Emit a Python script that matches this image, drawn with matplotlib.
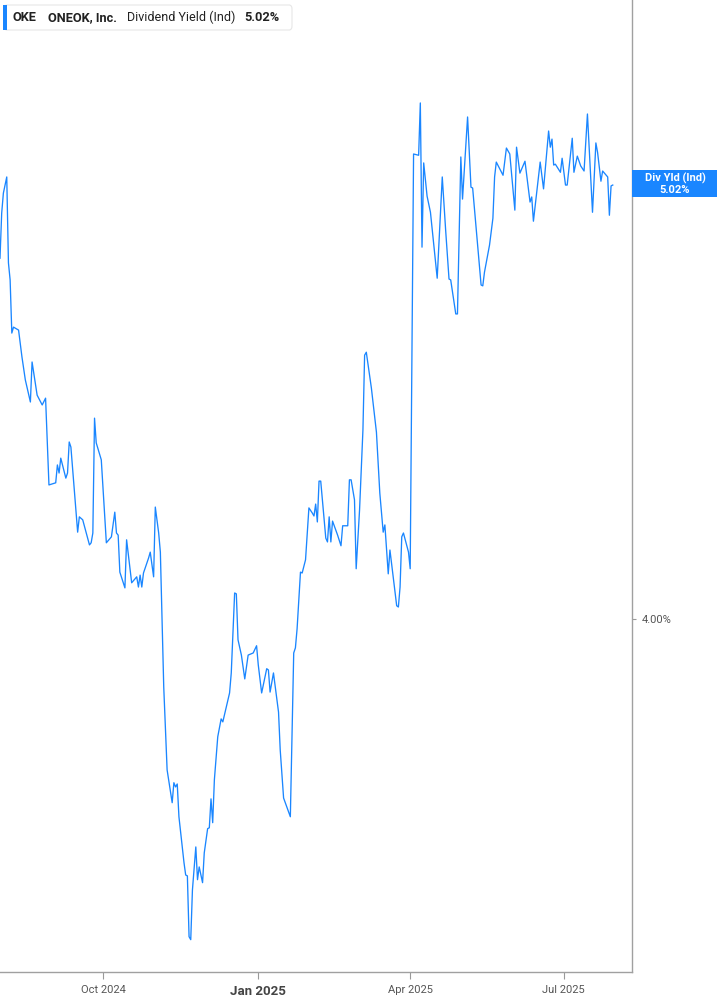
import matplotlib
matplotlib.use("Agg")
import matplotlib.pyplot as plt
import matplotlib.dates as mdates
from matplotlib.patches import FancyBboxPatch, Rectangle
import pandas as pd
import numpy as np

plt.rcParams['font.family'] = ['Roboto', 'DejaVu Sans']

start_date = "2024-08-01"
# days since start_date
day_offset = [0, 1, 2, 4, 5, 6, 7, 8, 11, 13, 15, 18, 19, 22, 25, 27, 29, 33, 34, 35,
              36, 39, 40, 41, 42, 46, 47, 49, 53, 54, 55, 56, 57, 60, 63, 66, 68, 69, 70, 71,
              74, 75, 78, 81, 82, 83, 84, 85, 88, 89, 91, 92, 94, 95, 97, 99, 102, 103, 104, 105,
              106, 109, 110, 111, 112, 113, 114, 116, 117, 118, 120, 121, 123, 124, 125, 126, 127, 129, 131, 132,
              136, 137, 139, 140, 141, 143, 145, 147, 150, 152, 153, 155, 158, 159, 160, 162, 165, 166, 168, 172,
              174, 175, 176, 178, 179, 181, 183, 185, 186, 187, 188, 189, 190, 193, 194, 195, 196, 197, 200, 202,
              203, 206, 207, 208, 210, 211, 213, 215, 216, 217, 220, 222, 223, 225, 227, 228, 230, 231, 235, 236,
              237, 238, 239, 242, 243, 245, 248, 249, 250, 251, 253, 255, 257, 259, 262, 264, 266, 267, 270, 271,
              273, 274, 277, 279, 280, 285, 286, 287, 290, 292, 293, 294, 298, 300, 302, 305, 306, 308, 311, 314,
              315, 316, 320, 322, 325, 326, 327, 328, 329, 332, 333, 335, 336, 339, 340, 342, 344, 346, 348, 351,
              353, 354, 356, 357, 360, 361, 362, 363]
div_yield = [4.848, 4.954, 5.001, 5.039, 4.837, 4.797, 4.672, 4.686, 4.679, 4.616, 4.562, 4.510, 4.604, 4.526, 4.503, 4.519, 4.315, 4.320, 4.362, 4.343,
             4.378, 4.331, 4.343, 4.416, 4.404, 4.204, 4.240, 4.233, 4.174, 4.179, 4.202, 4.472, 4.414, 4.374, 4.179, 4.193, 4.251, 4.202, 4.197, 4.110,
             4.073, 4.186, 4.085, 4.099, 4.075, 4.103, 4.075, 4.108, 4.143, 4.157, 4.099, 4.263, 4.202, 4.157, 3.840, 3.645, 3.568, 3.615, 3.605, 3.612,
             3.535, 3.427, 3.398, 3.396, 3.253, 3.246, 3.363, 3.464, 3.387, 3.417, 3.380, 3.450, 3.507, 3.509, 3.577, 3.521, 3.622, 3.723, 3.765, 3.758,
             3.826, 3.873, 4.061, 4.059, 3.951, 3.915, 3.859, 3.915, 3.920, 3.937, 3.892, 3.826, 3.883, 3.880, 3.828, 3.873, 3.781, 3.692, 3.579, 3.535,
             3.920, 3.932, 3.977, 4.110, 4.108, 4.139, 4.261, 4.249, 4.242, 4.270, 4.228, 4.324, 4.324, 4.190, 4.181, 4.240, 4.181, 4.230, 4.197, 4.172,
             4.219, 4.219, 4.327, 4.327, 4.280, 4.118, 4.256, 4.444, 4.620, 4.627, 4.543, 4.475, 4.439, 4.296, 4.204, 4.221, 4.106, 4.162, 4.031, 4.028,
             4.075, 4.193, 4.202, 4.157, 4.118, 5.093, 5.090, 5.213, 4.874, 5.072, 4.994, 4.956, 4.879, 4.801, 5.039, 4.914, 4.799, 4.797, 4.717, 4.717,
             5.086, 4.987, 5.180, 5.015, 5.013, 4.785, 4.783, 4.815, 4.879, 4.942, 5.039, 5.074, 5.043, 5.107, 5.093, 4.961, 5.109, 5.048, 5.076, 4.980,
             4.992, 4.935, 5.074, 5.011, 5.147, 5.109, 5.128, 5.067, 5.069, 5.050, 5.083, 5.020, 5.020, 5.130, 5.050, 5.088, 5.065, 5.053, 5.187, 4.956,
             5.119, 5.097, 5.029, 5.053, 5.039, 4.949, 5.018, 5.020]

tick_dates = ["2024-10-01", "2025-01-01", "2025-04-01", "2025-07-01"]
tick_labels = ["Oct 2024", "Jan 2025", "Apr 2025", "Jul 2025"]
y_ticks = [4.0, 5.0]
y_tick_labels = ["4.00%", ""]   # 5.00% label is covered by the value tag
ticker = "OKE"
company = "ONEOK, Inc."
metric = "Dividend Yield (Ind)"
last_value_label = "5.02%"

W, H = 717, 1005
fig = plt.figure(figsize=(W / 100, H / 100), dpi=100)
ax = fig.add_axes([0, 33 / H, 632 / W, 972 / H])

t0 = pd.Timestamp(start_date)
dates = t0 + pd.to_timedelta(day_offset, unit="D")
line_color = "#1a86ff"
ax.plot(dates, div_yield, color=line_color, lw=0.95, solid_joinstyle="round", zorder=3)

ax.set_xlim(t0, t0 + pd.Timedelta(days=374.4))
ax.set_ylim(3.170, 5.455)

for s in ["left", "top"]:
    ax.spines[s].set_visible(False)
for s in ["right", "bottom"]:
    ax.spines[s].set_color("#a0a0a0")
    ax.spines[s].set_linewidth(1.0)

ax.yaxis.tick_right()
ax.set_yticks(y_ticks)
ax.set_yticklabels(y_tick_labels)
ax.tick_params(axis="y", length=3, width=0.8, color="#999999", labelsize=8,
               labelcolor="#555555", pad=4)

ax.set_xticks(pd.to_datetime(tick_dates))
ax.set_xticklabels(tick_labels)
ax.tick_params(axis="x", length=5, width=0.8, color="#999999", labelsize=8,
               labelcolor="#555555", pad=4)
for lbl in ax.get_xticklabels():
    if lbl.get_text().startswith("Jan"):
        lbl.set_fontweight("bold")
        lbl.set_fontsize(9.5)
        lbl.set_color("#444444")

# Legend header box
hdr = FancyBboxPatch((4 / W, 1 - 30 / H), 288 / W, 25 / H,
                     boxstyle="round,pad=0,rounding_size=0.004",
                     transform=fig.transFigure, facecolor="white",
                     edgecolor="#e6e6e6", lw=0.8, zorder=5)
fig.patches.append(hdr)
fig.patches.append(Rectangle((3 / W, 1 - 30 / H), 3.5 / W, 25 / H,
                             transform=fig.transFigure, facecolor=line_color,
                             edgecolor="none", zorder=6))
ty = 1 - 17.5 / H
fig.text(13 / W, ty, ticker, fontsize=9.2, fontweight="bold", color="#222222", va="center", zorder=7)
fig.text(48 / W, ty, company, fontsize=9.2, fontweight="bold", color="#222222", va="center", zorder=7)
fig.text(127 / W, ty, metric, fontsize=9, color="#222222", va="center", zorder=7)
fig.text(244 / W, ty, last_value_label, fontsize=9.2, fontweight="bold", color="#222222", va="center", zorder=7)

# Right-side value tag
fig.patches.append(Rectangle((632 / W, 1 - 197 / H), 85 / W, 27 / H,
                             transform=fig.transFigure, facecolor=line_color,
                             edgecolor="none", zorder=8))
fig.text(675 / W, 1 - 178 / H, "Div Yld (Ind)", fontsize=8, fontweight="bold",
         color="white", ha="center", va="center", zorder=9)
fig.text(675 / W, 1 - 190 / H, last_value_label, fontsize=8, fontweight="bold",
         color="white", ha="center", va="center", zorder=9)

fig.savefig("out.png", dpi=100)
